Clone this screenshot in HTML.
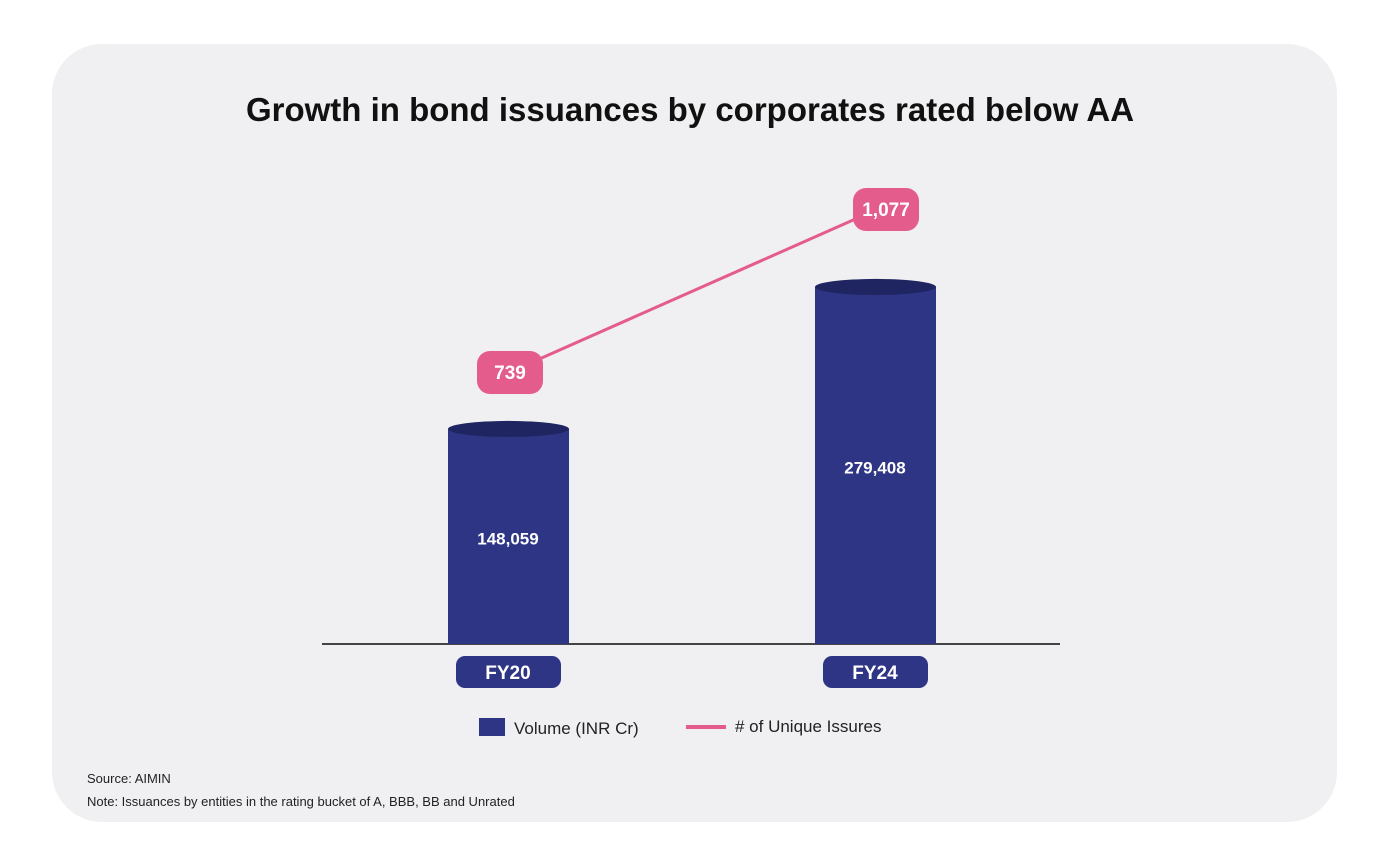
<!DOCTYPE html>
<html><head><meta charset="utf-8"><style>
body{margin:0;width:1380px;height:858px;background:#fff;font-family:"Liberation Sans",sans-serif;overflow:hidden}
#card{position:absolute;left:52px;top:44px;width:1285px;height:778px;background:#f0f0f2;border-radius:50px}
</style></head><body>
<div id="card"></div>
<svg id="chart" width="1380" height="858" style="position:absolute;left:0;top:0">
<text x="690" y="121" text-anchor="middle" font-size="33" font-weight="bold" fill="#111">Growth in bond issuances by corporates rated below AA</text>
<line x1="322" y1="644" x2="1060" y2="644" stroke="#444" stroke-width="2"/>
<g id="marks"></g>
<g>
<rect x="479" y="718" width="26" height="18" fill="#2e3585"/>
<text x="514" y="734" font-size="17" fill="#222">Volume (INR Cr)</text>
<rect x="686" y="725" width="40" height="4" fill="#e45c8c"/>
<text x="735" y="732" font-size="17" fill="#222"># of Unique Issures</text>
</g>
<text x="87" y="783" font-size="13" fill="#222">Source: AIMIN</text>
<text x="87" y="806" font-size="13" fill="#222">Note: Issuances by entities in the rating bucket of A, BBB, BB and Unrated</text>
</svg>
<script>
const categories = ["FY20", "FY24"];
const volumes = [148059, 279408];
const issuers = [739, 1077];
const volumeLabels = ["148,059", "279,408"];
const issuerLabels = ["739", "1,077"];

const NS = "http://www.w3.org/2000/svg";
const g = document.getElementById("marks");
const base = 644;
const xCenter = i => 508 + i * 367;
const barH = v => 55 + v * (142 / 131349);
const yLine = v => 372 - (v - 739) * (163 / 338);
function mk(t, a) { const e = document.createElementNS(NS, t); for (const k in a) e.setAttribute(k, a[k]); g.appendChild(e); return e; }

categories.forEach((c, i) => {
  const cx = xCenter(i), top = base - barH(volumes[i]);
  const r = mk("rect", { x: cx - 60, y: top, width: 121, height: base - top, fill: "#2e3585" });
  
  
  const el = mk("ellipse", { cx: cx + 0.5, cy: top, rx: 60.5, ry: 8, fill: "#1f2560" });
  
  
  const t = mk("text", { x: cx, y: (top + base) / 2 + 8, "text-anchor": "middle", "font-size": 17, "font-weight": "bold", fill: "#fff" });
  t.textContent = volumeLabels[i];
  
  
  const p = mk("rect", { x: cx - 52, y: 656, width: 105, height: 32, rx: 9, fill: "#2e3585" });
  
  
  const pt = mk("text", { x: cx, y: 679, "text-anchor": "middle", "font-size": 19, "font-weight": "bold", fill: "#fff" });
  pt.textContent = c;
  
  
});
const lx = i => xCenter(i) + 2 + i * (-3);
const ln = mk("line", { x1: lx(0), y1: yLine(issuers[0]), x2: lx(1) + 4, y2: yLine(issuers[1]), stroke: "#e45c8c", "stroke-width": 3 });


issuers.forEach((v, i) => {
  const cx = lx(i) + (i ? 12 : 0), cy = yLine(v);
  const b = mk("rect", { x: cx - 33, y: cy - 21, width: 66, height: 43, rx: 13, fill: "#e45c8c" });
  
  
  const t = mk("text", { x: cx, y: cy + 7, "text-anchor": "middle", "font-size": 19, "font-weight": "bold", fill: "#fff" });
  t.textContent = issuerLabels[i];
  
  
});
</script>
</body></html>
